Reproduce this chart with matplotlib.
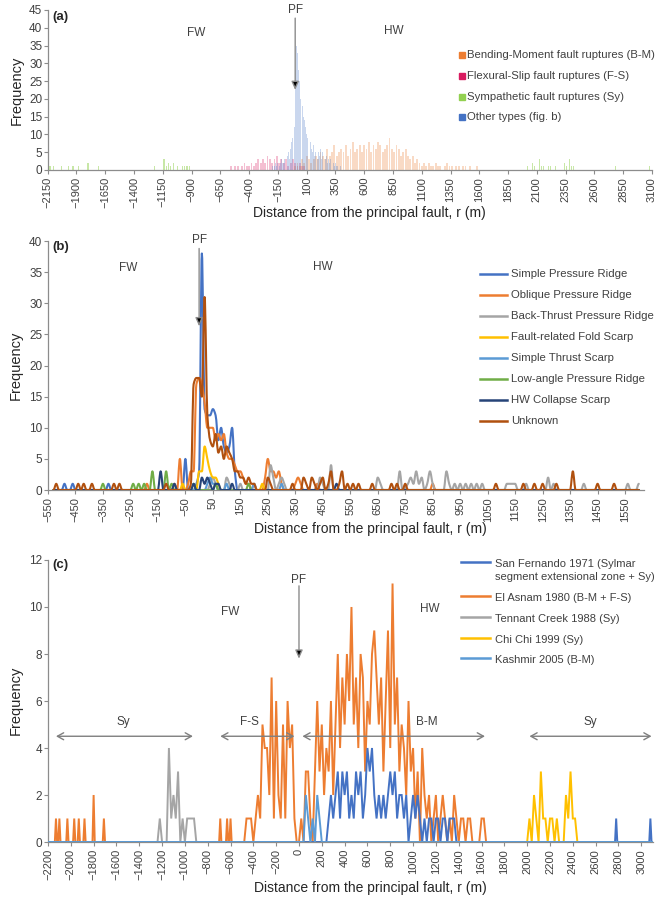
import numpy as np
import matplotlib
matplotlib.use("Agg")
import matplotlib.pyplot as plt
from matplotlib.path import Path
from matplotlib.patches import PathPatch

plt.rcParams["font.family"] = ["Liberation Sans", "DejaVu Sans"]

# ---------------- panel (a): histogram of rupture types ----------------
a_blue_start, a_blue_step = -200, 10
a_blue = [1, 0, 1, 2, 1, 2, 1, 2, 3, 2,
          2, 3, 2, 4, 5, 3, 6, 8, 9, 12,
          28, 35, 33, 28, 25, 20, 18, 15, 14, 12,
          10, 9, 7, 8, 6, 5, 7, 4, 5, 3,
          5, 4, 6, 3, 5, 4, 3, 4, 2, 3,
          2, 3, 1, 2, 1, 2, 1, 1, 0, 1, 0]
a_orange_start, a_orange_step = 0, 20
a_orange = [1, 2, 1, 3, 2, 4, 3, 2, 3, 4,
            3, 5, 4, 3, 6, 4, 5, 7, 4, 5,
            6, 5, 7, 4, 6, 8, 5, 6, 7, 5,
            7, 6, 8, 5, 7, 6, 8, 7, 5, 6,
            7, 9, 6, 5, 7, 6, 4, 5, 6, 4,
            3, 4, 2, 3, 2, 1, 2, 1, 2, 1,
            1, 2, 1, 1, 0, 1, 2, 1, 1, 0,
            1, 1, 0, 1, 1, 0, 1, 0, 0, 1, 0]
a_pink_start, a_pink_step = -560, 20
a_pink = [1, 0, 1, 1, 0, 1, 2, 1, 1, 2, 1, 2, 3, 2, 3, 2, 4,
          3, 2, 3, 4, 2, 3, 2, 3, 1, 2, 3, 2, 1, 2, 1, 1, 0]
a_green_x = [-2130, -2100, -2030, -1970, -1930, -1880, -1800, -1710,
             -1220, -1140, -1120, -1100, -1080, -1060, -1020, -980, -960, -940, -920,
             2020, 2060, 2080, 2120, 2140, 2160, 2200, 2220, 2260,
             2340, 2360, 2380, 2400, 2420, 2780, 3080]
a_green_y = [1, 1, 1, 1, 1, 1, 2, 1,
             1, 3, 1, 2, 1, 2, 1, 1, 1, 1, 1,
             1, 2, 1, 3, 1, 1, 1, 1, 1,
             2, 1, 3, 1, 1, 1, 1]
a_labels = ["Bending-Moment fault ruptures (B-M)", "Flexural-Slip fault ruptures (F-S)",
            "Sympathetic fault ruptures (Sy)", "Other types (fig. b)"]
a_colors = ["#ed7d31", "#d81b60", "#92d050", "#4472c4"]

# ---------------- panel (b): other rupture types (x, frequency) ----------------
b_simple_pressure = [(-530, 0), (-500, 0), (-490, 1), (-480, 0), (-470, 0), (-460, 1), (-450, 0),
                     (-340, 0), (-330, 1), (-320, 0), (-60, 0), (-50, 5), (-40, 0), (-20, 0),
                     (-10, 1), (0, 3), (10, 38), (20, 13), (30, 12), (40, 12), (50, 13), (60, 12),
                     (70, 8), (80, 10), (90, 7), (100, 6), (110, 7), (120, 10), (130, 3), (140, 0),
                     (1600, 0)]
b_oblique = [(-530, 0), (-200, 0), (-190, 1), (-180, 0), (-100, 0), (-90, 1), (-80, 0), (-70, 5),
             (-60, 0), (-50, 0), (-40, 1), (-30, 3), (-20, 3), (-10, 17), (0, 18), (10, 17),
             (20, 14), (30, 10), (40, 10), (50, 10), (60, 8), (70, 9), (80, 8), (90, 9), (100, 6),
             (110, 5), (120, 5), (130, 4), (140, 3), (150, 3), (160, 2), (170, 1), (180, 1),
             (190, 0), (200, 1), (210, 0), (230, 0), (240, 2), (250, 5), (260, 3), (270, 3),
             (280, 2), (290, 3), (300, 1), (310, 0), (340, 0), (350, 1), (360, 2), (370, 1),
             (380, 0), (420, 0), (430, 1), (440, 0), (840, 0), (850, 1), (860, 0), (1600, 0)]
b_back_thrust = [(-530, 0), (30, 0), (40, 1), (50, 2), (60, 1), (70, 0), (90, 0), (100, 2), (110, 1),
                 (120, 0), (140, 0), (150, 1), (160, 0), (250, 0), (260, 4), (270, 2), (280, 0),
                 (290, 1), (300, 2), (310, 1), (320, 0), (430, 0), (440, 2), (450, 1), (460, 0),
                 (470, 0), (480, 4), (490, 0), (640, 0), (650, 2), (660, 1), (670, 0), (720, 0),
                 (730, 3), (740, 0), (760, 1), (770, 2), (780, 1), (790, 3), (800, 1), (810, 2),
                 (820, 0), (830, 1), (840, 3), (850, 1), (860, 0), (890, 0), (900, 3), (910, 1),
                 (920, 0), (930, 1), (940, 0), (950, 1), (960, 0), (970, 1), (980, 0), (990, 1),
                 (1000, 0), (1010, 1), (1020, 0), (1030, 1), (1040, 0), (1110, 0), (1120, 1),
                 (1130, 1), (1140, 1), (1150, 1), (1160, 0), (1180, 0), (1190, 1), (1200, 0),
                 (1260, 0), (1270, 2), (1280, 0), (1290, 1), (1300, 0), (1390, 0), (1400, 1),
                 (1410, 0), (1550, 0), (1560, 1), (1570, 0), (1590, 0), (1600, 1)]
b_fold_scarp = [(-530, 0), (-70, 0), (-60, 1), (-50, 0), (-10, 0), (0, 3), (10, 3), (20, 7),
                (30, 5), (40, 3), (50, 2), (60, 2), (70, 1), (80, 0), (220, 0), (230, 1),
                (240, 0), (1600, 0)]
b_thrust_scarp = [(-530, 0), (20, 0), (30, 1), (40, 2), (50, 1), (60, 1), (70, 0), (90, 0),
                  (100, 1), (110, 0), (190, 0), (200, 1), (210, 0), (290, 0), (300, 1), (310, 0),
                  (1600, 0)]
b_low_angle = [(-530, 0), (-360, 0), (-350, 1), (-340, 0), (-250, 0), (-240, 1), (-230, 0),
               (-220, 1), (-210, 0), (-200, 1), (-190, 0), (-180, 0), (-170, 3), (-160, 0),
               (-130, 0), (-120, 3), (-110, 0), (-100, 1), (-90, 0), (-30, 0), (-20, 1), (-10, 0),
               (50, 0), (60, 1), (70, 0), (170, 0), (180, 1), (190, 0), (1600, 0)]
b_hw_collapse = [(-530, 0), (-150, 0), (-140, 3), (-130, 0), (-100, 0), (-90, 1), (-80, 0),
                 (-30, 0), (-20, 1), (-10, 0), (0, 0), (10, 2), (20, 1), (30, 2), (40, 1), (50, 0),
                 (60, 1), (70, 1), (80, 0), (110, 0), (120, 1), (130, 0), (490, 0), (500, 1),
                 (510, 0), (1600, 0)]
b_unknown = [(-530, 0), (-520, 1), (-510, 0), (-450, 0), (-440, 1), (-430, 0), (-420, 1), (-410, 0),
             (-400, 0), (-390, 1), (-380, 0), (-320, 0), (-310, 1), (-300, 0), (-290, 1), (-280, 0),
             (-130, 0), (-120, 1), (-110, 0), (-40, 0), (-30, 1), (-20, 17), (-10, 18), (0, 18),
             (10, 15), (20, 31), (30, 12), (40, 8), (50, 7), (60, 9), (70, 6), (80, 7), (90, 5),
             (100, 7), (110, 6), (120, 5), (130, 3), (140, 3), (150, 2), (160, 2), (170, 1),
             (180, 2), (190, 1), (200, 1), (210, 0), (240, 0), (250, 2), (260, 1), (270, 0),
             (330, 0), (340, 1), (350, 0), (370, 0), (380, 2), (390, 1), (400, 0), (410, 2),
             (420, 1), (430, 0), (440, 1), (450, 2), (460, 0), (470, 1), (480, 3), (490, 0),
             (500, 0), (510, 1), (520, 3), (530, 0), (540, 1), (550, 0), (560, 1), (570, 0),
             (580, 1), (590, 0), (620, 0), (630, 1), (640, 0), (690, 0), (700, 1), (710, 0),
             (720, 1), (730, 0), (740, 0), (750, 1), (760, 0), (1070, 0), (1080, 1), (1090, 0),
             (1170, 0), (1180, 1), (1190, 0), (1210, 0), (1220, 1), (1230, 0), (1240, 0),
             (1250, 1), (1260, 0), (1290, 0), (1300, 1), (1310, 0), (1350, 0), (1360, 3),
             (1370, 0), (1440, 0), (1450, 1), (1460, 0), (1500, 0), (1510, 1), (1520, 0), (1600, 0)]
b_series = [("Simple Pressure Ridge", b_simple_pressure, "#4472c4"),
            ("Oblique Pressure Ridge", b_oblique, "#ed7d31"),
            ("Back-Thrust Pressure Ridge", b_back_thrust, "#a5a5a5"),
            ("Fault-related Fold Scarp", b_fold_scarp, "#ffc000"),
            ("Simple Thrust Scarp", b_thrust_scarp, "#5b9bd5"),
            ("Low-angle Pressure Ridge", b_low_angle, "#70ad47"),
            ("HW Collapse Scarp", b_hw_collapse, "#264478"),
            ("Unknown", b_unknown, "#b0500f")]

# ---------------- panel (c): earthquakes ----------------
c_xrange = (-2200, 3100)
asnam_spike_x = [-2130, -2100, -2030, -1970, -1930, -1880, -1800, -1710, -690, -630, -600]
asnam_spike_y = [1, 1, 1, 1, 1, 1, 2, 1, 1, 1, 1]
asnam_fw_start = -480
asnam_fw = [0, 1, 1, 1, 0, 1, 2, 1, 5, 4, 4, 2, 7, 1, 6, 2, 1, 5, 1, 6, 4, 5, 1, 0]
asnam_hw_start = 0
asnam_hw = [0, 1, 0, 3, 3, 1, 0, 3, 6, 3,
            5, 2, 4, 3, 6, 2, 5, 8, 4, 7,
            5, 8, 6, 10, 5, 7, 4, 8, 7, 3,
            6, 5, 8, 9, 7, 5, 7, 3, 6, 9,
            4, 11, 5, 7, 3, 5, 4, 2, 6, 3,
            4, 1, 3, 0, 4, 2, 1, 2, 0, 1,
            2, 0, 1, 2, 1, 0, 1, 0, 2, 1,
            0, 1, 1, 0, 1, 1, 0, 0, 0, 0,
            1, 1, 0]
sanfer_start = 240
sanfer = [0, 1, 2, 1, 2, 3, 1, 3, 2, 3,
          1, 2, 1, 3, 2, 3, 1, 2, 4, 3,
          4, 2, 1, 2, 1, 2, 1, 2, 3, 2,
          3, 1, 2, 2, 1, 2, 0, 1, 2, 1,
          2, 1, 0, 1, 0, 1, 1, 0, 1, 1,
          0, 1, 1, 0, 1, 1, 1, 0]
sanfer_spike_x = [2780, 3080]
sanfer_spike_y = [1, 1]
tennant_start = -1220
tennant = [1, 0, 0, 0, 4, 1, 2, 1, 3, 0, 1, 0, 1, 1, 1, 1]
chichi_start = 2020
chichi = [1, 0, 2, 1, 0, 3, 1, 1, 0, 1, 1, 0, 1, 0, 0, 0, 2, 1, 3, 1, 1, 0]
kashmir = [(-2200, 0), (40, 0), (60, 2), (80, 1), (100, 0), (120, 1), (140, 0),
           (160, 2), (180, 1), (200, 0), (3100, 0)]
c_step = 20
c_labels = ["San Fernando 1971 (Sylmar\nsegment extensional zone + Sy)", "El Asnam 1980 (B-M + F-S)",
            "Tennant Creek 1988 (Sy)", "Chi Chi 1999 (Sy)", "Kashmir 2005 (B-M)"]
c_colors = ["#4472c4", "#ed7d31", "#a5a5a5", "#ffc000", "#5b9bd5"]
zones = [("Sy", -2130, -930), ("F-S", -690, -40), ("B-M", 30, 1630), ("Sy", 2020, 3090)]
zone_label_x = [-1540, -430, 1120, 2550]

TXT = "#404040"
AX = "#8c8c8c"


def style(ax, xticks, yticks, xlim, ylim):
    ax.set_xlim(*xlim)
    ax.set_ylim(*ylim)
    ax.set_xticks(xticks)
    ax.set_yticks(yticks)
    for s in ("top", "right"):
        ax.spines[s].set_visible(False)
    for s in ("left", "bottom"):
        ax.spines[s].set_color(AX)
        ax.spines[s].set_linewidth(0.9)
    ax.tick_params(axis="x", labelrotation=90, labelsize=8, colors=TXT, color=AX, length=3, pad=2)
    ax.tick_params(axis="y", labelsize=8.5, colors=TXT, color=AX, length=3, pad=1)


def spikes(xs, hs):
    pts = []
    for x, h in zip(xs, hs):
        pts += [(x - 10, 0), (x, h), (x + 10, 0)]
    return pts


def regular(start, vals, step):
    return [(start + i * step, v) for i, v in enumerate(vals)]


def smooth(ax, pts, color, lw, z):
    # smoothed line like a spreadsheet chart (monotone cubic drawn as bezier path)
    x = np.array([p[0] for p in pts], float)
    y = np.array([p[1] for p in pts], float)
    h = np.diff(x)
    d = np.diff(y) / h
    m = np.zeros_like(y)
    for k in range(1, len(y) - 1):
        if d[k - 1] * d[k] > 0:
            w1 = 2 * h[k] + h[k - 1]
            w2 = h[k] + 2 * h[k - 1]
            m[k] = (w1 + w2) / (w1 / d[k - 1] + w2 / d[k])
    verts = [(x[0], y[0])]
    codes = [Path.MOVETO]
    for k in range(len(x) - 1):
        verts += [(x[k] + h[k] / 3, y[k] + m[k] * h[k] / 3),
                  (x[k + 1] - h[k] / 3, y[k + 1] - m[k + 1] * h[k] / 3),
                  (x[k + 1], y[k + 1])]
        codes += [Path.CURVE4] * 3
    ax.add_patch(PathPatch(Path(verts, codes), fill=False, edgecolor=color, lw=lw,
                           zorder=z, joinstyle="round", capstyle="round"))


def pf_arrow(ax, x, y0, y1):
    ax.annotate("", xy=(x, y1), xytext=(x, y0),
                arrowprops=dict(arrowstyle="-|>,head_width=0.22,head_length=0.5",
                                ec="#8c8c8c", fc="black", lw=1.0, shrinkA=0, shrinkB=0),
                zorder=6)


fig = plt.figure(figsize=(6.6, 8.97), dpi=100)

# ---------------- (a) ----------------
ax = fig.add_axes([0.0723, 0.8105, 0.9156, 0.1784])
style(ax, np.arange(-2150, 3101, 250), np.arange(0, 46, 5), (-2150, 3100), (0, 45))
for start, step, vals, col, z in [(a_pink_start, a_pink_step, a_pink, a_colors[1], 2),
                                  (a_orange_start, a_orange_step, a_orange, a_colors[0], 2),
                                  (a_blue_start, a_blue_step, a_blue, a_colors[3], 3)]:
    xs = start + step * np.arange(len(vals))
    ax.bar(xs, vals, width=step * 0.8, color=col, alpha=0.28, lw=0, zorder=z)
ax.bar(a_green_x, a_green_y, width=10, color=a_colors[2], alpha=0.5, lw=0, zorder=3)
ax.text(0.007, 0.956, "(a)", transform=ax.transAxes, fontsize=9.5, fontweight="bold",
        color="#262626", va="center")
ax.text(-858, 38.5, "FW", fontsize=8.5, color=TXT, ha="center", va="center")
ax.text(853, 39, "HW", fontsize=8.5, color=TXT, ha="center", va="center")
ax.text(0, 45, "PF", fontsize=8.5, color=TXT, ha="center", va="center", clip_on=False)
pf_arrow(ax, 0, 42.7, 22.5)
for i, (lab, col) in enumerate(zip(a_labels, a_colors)):
    yy = 0.719 - i * 0.13
    ax.plot([0.686], [yy], marker="s", ms=4, color=col, transform=ax.transAxes, lw=0)
    ax.text(0.694, yy, lab, transform=ax.transAxes, fontsize=8.2, color=TXT, va="center")
ax.set_ylabel("Frequency", fontsize=10.5, color="#262626")
ax.yaxis.set_label_coords(-0.040, 0.5)
ax.set_xlabel("Distance from the principal fault, r (m)", fontsize=10, color="#262626")
ax.xaxis.set_label_coords(0.533, -0.225)

# ---------------- (b) ----------------
ax = fig.add_axes([0.0727, 0.4537, 0.9035, 0.2776])
style(ax, np.arange(-550, 1551, 100), np.arange(0, 41, 5), (-550, 1620), (0, 40))
for i, (lab, pts, col) in enumerate(b_series):
    smooth(ax, pts, col, 1.5, 2 + i * 0.1)
ax.text(0.008, 0.976, "(b)", transform=ax.transAxes, fontsize=9.5, fontweight="bold",
        color="#262626", va="center")
ax.text(-259, 35.6, "FW", fontsize=8.5, color=TXT, ha="center", va="center")
ax.text(451, 35.8, "HW", fontsize=8.5, color=TXT, ha="center", va="center")
ax.text(0, 40.2, "PF", fontsize=8.5, color=TXT, ha="center", va="center", clip_on=False)
pf_arrow(ax, 0, 38.8, 26.3)
for i, (lab, pts, col) in enumerate(b_series):
    yy = 0.867 - i * 0.0843
    ax.plot([0.7245, 0.770], [yy, yy], color=col, lw=1.8, transform=ax.transAxes)
    ax.text(0.776, yy, lab, transform=ax.transAxes, fontsize=8.2, color=TXT, va="center")
ax.set_ylabel("Frequency", fontsize=10.5, color="#262626")
ax.yaxis.set_label_coords(-0.042, 0.5)
ax.set_xlabel("Distance from the principal fault, r (m)", fontsize=10, color="#262626")
ax.xaxis.set_label_coords(0.54, -0.1285)

# ---------------- (c) ----------------
ax = fig.add_axes([0.0727, 0.0613, 0.9162, 0.3144])
style(ax, np.arange(-2200, 3001, 200), np.arange(0, 13, 2), c_xrange, (0, 12))
x0, x1 = c_xrange
asnam_pts = ([(x0, 0)] + spikes(asnam_spike_x, asnam_spike_y)
             + regular(asnam_fw_start, asnam_fw, c_step)
             + regular(asnam_hw_start, asnam_hw, c_step) + [(x1, 0)])
tennant_pts = [(x0, 0), (tennant_start - c_step, 0)] + regular(tennant_start, tennant, c_step) + \
    [(tennant_start + len(tennant) * c_step, 0), (x1, 0)]
chichi_pts = [(x0, 0), (chichi_start - c_step, 0)] + regular(chichi_start, chichi, c_step) + [(x1, 0)]
sanfer_pts = [(x0, 0)] + regular(sanfer_start, sanfer, c_step) + \
    spikes(sanfer_spike_x, sanfer_spike_y) + [(x1, 0)]
for pts, col, z in [(asnam_pts, c_colors[1], 2), (tennant_pts, c_colors[2], 3),
                    (chichi_pts, c_colors[3], 3), (sanfer_pts, c_colors[0], 4),
                    (kashmir, c_colors[4], 5)]:
    ax.plot([p[0] for p in pts], [p[1] for p in pts], color=col, lw=1.4, zorder=z,
            solid_joinstyle="miter")
for (lab, a, b), lx in zip(zones, zone_label_x):
    ax.annotate("", xy=(a, 4.5), xytext=(b, 4.5),
                arrowprops=dict(arrowstyle="<->,head_width=0.25,head_length=0.45",
                                color="#7f7f7f", lw=1.0, shrinkA=0, shrinkB=0), zorder=6)
    ax.text(lx, 5.1, lab, fontsize=8.5, color=TXT, ha="center", va="center")
ax.text(0.008, 0.982, "(c)", transform=ax.transAxes, fontsize=9.5, fontweight="bold",
        color="#262626", va="center")
ax.text(-605, 9.8, "FW", fontsize=8.5, color=TXT, ha="center", va="center")
ax.text(1148, 9.9, "HW", fontsize=8.5, color=TXT, ha="center", va="center")
ax.text(0, 11.15, "PF", fontsize=8.5, color=TXT, ha="center", va="center")
pf_arrow(ax, 0, 10.9, 7.8)
leg_y = [0.993, 0.872, 0.798, 0.723, 0.652]
for lab, col, yy in zip(c_labels, c_colors, leg_y):
    ax.plot([0.683, 0.731], [yy, yy], color=col, lw=1.8, transform=ax.transAxes, clip_on=False)
    ax.text(0.739, yy + 0.0095, lab, transform=ax.transAxes, fontsize=8.0, color=TXT,
            va="top", linespacing=1.35)
ax.set_ylabel("Frequency", fontsize=10.5, color="#262626")
ax.yaxis.set_label_coords(-0.041, 0.503)
ax.set_xlabel("Distance from the principal fault, r (m)", fontsize=10, color="#262626")
ax.xaxis.set_label_coords(0.5325, -0.138)

fig.savefig("out.png", dpi=100)
